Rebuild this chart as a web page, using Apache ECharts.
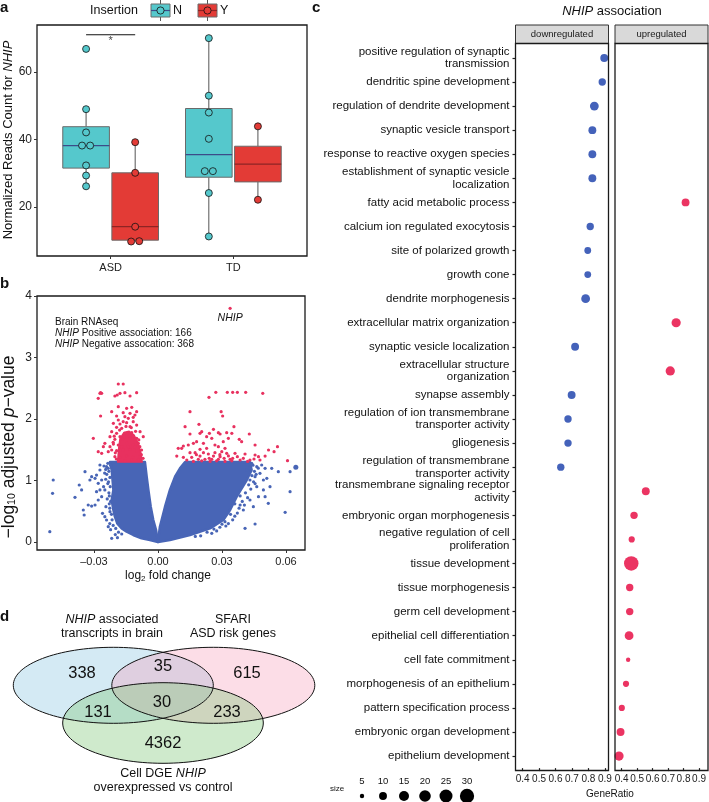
<!DOCTYPE html>
<html><head><meta charset="utf-8">
<script src="https://cdn.jsdelivr.net/npm/echarts@6/dist/echarts.min.js"></script>
<style>html,body{margin:0;padding:0;background:#fff}#c{width:709px;height:802px}</style>
</head><body><div id="c"></div><script>
// ---------------- Panel a data ----------------
const groupsA = ['ASD', 'TD'];
const insertionLevels = ['N', 'Y'];
const pointsN = [[66.9, 49.0, 42.1, 38.2, 38.2, 32.3, 29.3, 26.1], [70.1, 53.0, 48.0, 40.2, 30.6, 30.6, 24.1, 11.2]];
const pointsY = [[39.2, 30.1, 14.1, 9.7, 9.8], [43.9, 22.1]];
const boxN = [[26.1, 31.5, 38.2, 43.8, 49.0], [11.2, 28.8, 35.5, 49.2, 70.1]];   // min, Q1, median, Q3, max
const boxY = [[9.7, 10.1, 14.1, 30.1, 39.2], [22.1, 27.4, 32.7, 38.0, 43.9]];
const yTicksA = [20, 40, 60];
const sigLevel = 71.1;
const sigLabel = '*';

// ---------------- Panel b data ----------------
const lfcTicks = [-0.03, 0, 0.03, 0.06];
const logpTicks = [0, 1, 2, 3, 4];
const positiveCount = 166;
const negativeCount = 368;
const cloudLeft = [[-0.0225,1.30],[-0.0217,1.171],[-0.0213,1.008],[-0.0209,0.846],[-0.0217,0.683],[-0.0209,0.520],[-0.0202,0.412],[-0.0191,0.304],[-0.0170,0.222],[-0.0147,0.168],[-0.0116,0.114],[-0.0077,0.060],[-0.0038,0.033],[0,0],[-0.0009,0.195],[-0.0022,0.358],[-0.0034,0.574],[-0.0045,0.846],[-0.0053,1.062],[-0.0061,1.30]];
const cloudRight = [[0,0],[0.0009,0.249],[0.0033,0.574],[0.0056,0.846],[0.0080,1.062],[0.0103,1.198],[0.0127,1.30],[0.0431,1.30],[0.0439,1.171],[0.0416,1.008],[0.0369,0.737],[0.0338,0.520],[0.0306,0.358],[0.0244,0.222],[0.0150,0.114],[0.0056,0.033]];
const coreNeg = [[-0.0189,1.30],[-0.0185,1.50],[-0.0178,1.68],[-0.0160,1.78],[-0.0135,1.80],[-0.0112,1.74],[-0.0092,1.60],[-0.0080,1.45],[-0.0074,1.30]];
const sparseBlue = [[-0.0491,1.008],[-0.0494,0.791],[-0.0507,0.168],[-0.0389,0.726],[-0.0369,0.927],[-0.0358,0.846],[-0.0342,1.144],[-0.0350,0.520],[-0.0346,0.439],[-0.0327,0.602],[-0.0311,0.585],[-0.0295,0.602],[-0.0319,1.008],[-0.0311,1.062],[-0.0295,1.035],[-0.0288,1.089],[-0.0280,0.954],[-0.0272,1.171],[-0.0264,1.008],[-0.0272,0.846],[-0.0288,0.818],[-0.0264,0.737],[-0.0249,0.846],[-0.0272,1.252],[-0.0253,1.236],[-0.0241,1.225],[-0.0233,1.198],[-0.0260,0.466],[-0.0249,0.412],[-0.0241,0.358],[-0.0233,0.249],[-0.0217,0.060],[-0.0225,0.493],[-0.0244,0.574],[-0.0280,0.683],[-0.0240,1.10],[-0.0235,0.95],[-0.0230,0.80],[-0.0238,0.70],[-0.0228,0.62],[-0.0245,1.02],[-0.0255,0.90],[-0.0226,0.30],[-0.0222,0.20],[-0.0200,0.12],[-0.0190,0.07],
[-0.0222,1.25],[-0.0230,1.15],[-0.0225,1.05],[-0.0232,0.98],[-0.0224,0.90],[-0.0228,0.75],[-0.0222,0.66],[-0.0226,0.55],[-0.0218,0.45],[-0.0215,0.36],[-0.0210,0.27],[-0.0198,0.22],[-0.0185,0.16],[-0.0170,0.13],[-0.0235,1.28],[-0.0245,1.18],[-0.0250,1.12],
[0.0439,1.279],[0.0463,1.225],[0.0486,1.252],[0.0502,1.198],[0.0478,1.117],[0.0494,1.008],[0.0510,1.035],[0.0463,0.900],[0.0494,0.846],[0.0517,0.629],[0.0502,0.737],[0.0564,1.144],[0.0619,1.144],[0.0619,0.818],[0.0596,0.482],[0.0455,0.293],[0.0408,0.222],[0.0314,0.331],[0.0252,0.141],[0.0431,0.683],[0.0447,0.574],[0.0400,0.520],[0.0385,0.602],[0.0471,0.737],[0.0525,0.900],[0.0431,1.008],[0.0533,1.198],[0.0416,1.171],[0.0455,1.062],
[0.0445,1.25],[0.0452,1.15],[0.0440,1.08],[0.0448,0.98],[0.0425,0.93],[0.0435,0.86],[0.0410,0.80],[0.0420,0.72],[0.0395,0.66],[0.0405,0.60],[0.0380,0.55],[0.0372,0.47],[0.0360,0.42],[0.0350,0.36],[0.0330,0.30],[0.0318,0.26],[0.0290,0.24],[0.0275,0.18],[0.0230,0.16],[0.0200,0.10],[0.0460,1.10],[0.0470,1.20],[0.0430,1.20],[0.0455,0.95],[0.0385,0.75],[0.0360,0.62],[0.0340,0.45],[0.0300,0.29],[0.0262,0.21],[0.0175,0.09]];
const bigBlue = [[0.0646,1.214]];
const sigNeg = [[-0.0186,2.569],[-0.0163,2.569],[-0.0269,2.428],[-0.0280,2.336],[-0.0264,2.417],[-0.0202,2.374],[-0.0191,2.390],[-0.0178,2.417],[-0.0155,2.428],[-0.0100,2.428],[-0.0131,2.374],[-0.0217,2.119],[-0.0269,2.049],[-0.0186,2.201],[-0.0147,2.173],[-0.0123,2.190],[-0.0100,2.119],[-0.0163,2.103],[-0.0131,2.092],[-0.0108,2.065],[-0.0194,2.049],[-0.0155,2.038],[-0.0116,2.027],[-0.0209,1.930],[-0.0178,1.919],[-0.0147,1.940],[-0.0131,1.875],[-0.0100,1.902],[-0.0170,1.848],[-0.0217,1.794],[-0.0194,1.767],[-0.0155,1.767],[-0.0123,1.778],[-0.0084,1.794],[-0.0225,1.713],[-0.0202,1.669],[-0.0163,1.669],[-0.0131,1.686],[-0.0100,1.686],[-0.0069,1.713],[-0.0303,1.686],[-0.0249,1.604],[-0.0209,1.593],[-0.0186,1.577],[-0.0147,1.604],[-0.0116,1.577],[-0.0092,1.604],[-0.0280,1.469],[-0.0264,1.442],[-0.0233,1.469],[-0.0217,1.496],[-0.0194,1.485],[-0.0163,1.496],[-0.0131,1.507],[-0.0100,1.485],[-0.0077,1.496],[-0.0202,1.388],[-0.0178,1.377],[-0.0147,1.398],[-0.0116,1.377],[-0.0084,1.388],[-0.0186,1.333],[-0.0155,1.322],[-0.0123,1.333],[-0.0092,1.333],[-0.0256,1.550],[-0.0225,1.550],[-0.0170,1.550],[-0.0139,1.550],[-0.0108,1.550],[-0.0178,1.713],[-0.0147,1.713],[-0.0116,1.724],[-0.0194,1.864],[-0.0163,1.957],[-0.0116,1.957],[-0.0186,1.984],[-0.0139,2.011],[-0.0272,2.418],[-0.0205,1.72],[-0.0210,1.62],[-0.0090,1.66],[-0.0085,1.55],[-0.0078,1.42],[-0.0070,1.36],[-0.0200,1.45],[-0.0195,1.35],[-0.0125,1.86],[-0.0150,1.88],[-0.0180,1.82],[-0.0105,1.80]];
const sigPos = [[0.0271,2.434],[0.0325,2.434],[0.0350,2.434],[0.0372,2.434],[0.0411,2.434],[0.0491,2.417],[0.0239,2.352],[0.0150,2.119],[0.0296,2.119],[0.0303,2.049],[0.0192,1.913],[0.0356,1.875],[0.0127,1.875],[0.0260,1.832],[0.0205,1.794],[0.0197,1.767],[0.0150,1.756],[0.0241,1.767],[0.0283,1.778],[0.0291,1.756],[0.0322,1.778],[0.0346,1.767],[0.0428,1.756],[0.0228,1.713],[0.0252,1.686],[0.0330,1.686],[0.0381,1.669],[0.0392,1.631],[0.0306,1.631],[0.0181,1.631],[0.0166,1.604],[0.0213,1.604],[0.0142,1.577],[0.0119,1.561],[0.0111,1.523],[0.0455,1.577],[0.0095,1.523],[0.0267,1.577],[0.0283,1.550],[0.0314,1.523],[0.0228,1.523],[0.0197,1.507],[0.0150,1.453],[0.0174,1.453],[0.0213,1.453],[0.0236,1.431],[0.0267,1.453],[0.0299,1.469],[0.0322,1.442],[0.0361,1.442],[0.0372,1.388],[0.0408,1.431],[0.0455,1.415],[0.0471,1.388],[0.0518,1.496],[0.0544,1.469],[0.0560,1.550],[0.0502,1.398],[0.0088,1.398],[0.0119,1.377],[0.0158,1.377],[0.0189,1.344],[0.0220,1.344],[0.0252,1.344],[0.0283,1.344],[0.0291,1.388],[0.0338,1.344],[0.0385,1.333],[0.0431,1.333],[0.0478,1.333],[0.0607,1.322],[0.0135,1.333],[0.0197,1.398],[0.0260,1.398],[0.0166,1.31],[0.0205,1.32],[0.0244,1.31],[0.0275,1.32],[0.0314,1.31],[0.0346,1.32],[0.0240,1.36],[0.0310,1.36],[0.0180,1.42],[0.0290,1.42],[0.0330,1.40],[0.0350,1.36],[0.0400,1.36],[0.0420,1.31],[0.0450,1.35]];
const nhipPoint = [0.0338, 3.80];

// ---------------- Panel c data ----------------
const termOrder = ['positive regulation of synaptic\ntransmission','dendritic spine development','regulation of dendrite development','synaptic vesicle transport','response to reactive oxygen species','establishment of synaptic vesicle\nlocalization','fatty acid metabolic process','calcium ion regulated exocytosis','site of polarized growth','growth cone','dendrite morphogenesis','extracellular matrix organization','synaptic vesicle localization','extracellular structure\norganization','synapse assembly','regulation of ion transmembrane\ntransporter activity','gliogenesis','regulation of transmembrane\ntransporter activity','transmembrane signaling receptor\nactivity','embryonic organ morphogenesis','negative regulation of cell\nproliferation','tissue development','tissue morphogenesis','germ cell development','epithelial cell differentiation','cell fate commitment','morphogenesis of an epithelium','pattern specification process','embryonic organ development','epithelium development'];
const downTerms = ['positive regulation of synaptic\ntransmission','dendritic spine development','regulation of dendrite development','synaptic vesicle transport','response to reactive oxygen species','establishment of synaptic vesicle\nlocalization','calcium ion regulated exocytosis','site of polarized growth','growth cone','dendrite morphogenesis','synaptic vesicle localization','synapse assembly','regulation of ion transmembrane\ntransporter activity','gliogenesis','regulation of transmembrane\ntransporter activity'];
const downRatio = [0.896, 0.884, 0.836, 0.824, 0.824, 0.824, 0.811, 0.796, 0.796, 0.783, 0.719, 0.698, 0.676, 0.676, 0.632];
const downSize = [10, 9, 12, 10, 10, 10, 9, 8, 8, 12, 10, 10, 9, 9, 9];
const upTerms = ['fatty acid metabolic process','extracellular matrix organization','extracellular structure\norganization','transmembrane signaling receptor\nactivity','embryonic organ morphogenesis','negative regulation of cell\nproliferation','tissue development','tissue morphogenesis','germ cell development','epithelial cell differentiation','cell fate commitment','morphogenesis of an epithelium','pattern specification process','embryonic organ development','epithelium development'];
const upRatio = [0.813, 0.752, 0.714, 0.556, 0.480, 0.465, 0.462, 0.452, 0.452, 0.448, 0.442, 0.428, 0.401, 0.393, 0.383];
const upSize = [10, 13, 13, 10, 9, 7, 31, 9, 9, 12, 5, 7, 7, 10, 13];
const facetNames = ['downregulated', 'upregulated'];
const ratioTicks = [0.4, 0.5, 0.6, 0.7, 0.8, 0.9];
const sizeBreaks = [5, 10, 15, 20, 25, 30];

// ---------------- Panel d data ----------------
const vennSetNames = ['{i|NHIP} associated\ntranscripts in brain', 'SFARI\nASD risk genes', 'Cell DGE {i|NHIP}\noverexpressed vs control'];
const vennCounts = [338, 35, 615, 131, 30, 233, 4362]; // A, A∩B, B, A∩C, A∩B∩C, B∩C, C

// ---------------- styling ----------------
const FONT = '"Liberation Sans", Arial, Helvetica, sans-serif';
const TEAL = '#55C8CC', RED = '#E33B36';
const MED = ['#3C4C88', '#8E2424'];
const BLUE = '#4865B6', PINK = '#E8315F';
const DOWNC = '#4462BA', UPC = '#EB3462';
const sizeToPx = v => 2 + 12.5 * Math.sqrt(Math.max(v - 4, 0) / 27);
const dodge = [-0.2, 0.2];
const BOX_W = 0.38;

const chart = echarts.init(document.getElementById('c'));

const boxData = [];
groupsA.forEach((g, i) => {
  boxData.push([i + 1 + dodge[0]].concat(boxN[i], [0]));
  boxData.push([i + 1 + dodge[1]].concat(boxY[i], [1]));
});
function swarm(vals, center) {
  return vals.map((v, j) => {
    const ties = vals.map((w, k) => [w, k]).filter(t => Math.abs(t[0] - v) < 1.0);
    let off = 0;
    if (ties.length > 1) {
      const idx = ties.findIndex(t => t[1] === j);
      off = (idx - (ties.length - 1) / 2) * 0.066;
    }
    return [center + off, v];
  });
}
const ptsNData = [], ptsYData = [];
groupsA.forEach((g, i) => {
  swarm(pointsN[i], i + 1 + dodge[0]).forEach(p => ptsNData.push(p));
  swarm(pointsY[i], i + 1 + dodge[1]).forEach(p => ptsYData.push(p));
});

const axisFont = {fontFamily: FONT, color: '#222'};
const gridBorder = {show: true, borderColor: '#1a1a1a', borderWidth: 1.3, backgroundColor: '#fff'};
const noLine = {show: false, onZero: false};
const ratioAxis = gi => ({gridIndex: gi, type: 'value', min: 0.357, max: 0.922, axisLine: noLine, splitLine: {show: false},
  axisTick: {show: true, customValues: ratioTicks, length: 3, lineStyle: {color: '#222', width: 1.2}},
  axisLabel: Object.assign({customValues: ratioTicks, formatter: v => v.toFixed(1), fontSize: 10, margin: 6,
    hideOverlap: false, showMinLabel: true, showMaxLabel: true}, axisFont)});

const option = {
  animation: false,
  textStyle: {fontFamily: FONT},
  grid: [
    Object.assign({left: 37, top: 25, width: 270, height: 231}, gridBorder),
    Object.assign({left: 37, top: 296, width: 268, height: 254}, gridBorder),
    {left: 515.5, top: 45.9, width: 93, height: 722.2, show: false},
    {left: 615, top: 45.9, width: 93, height: 722.2, show: false}
  ],
  xAxis: [
    {gridIndex: 0, type: 'value', min: 0.4, max: 2.6, axisLine: noLine, splitLine: {show: false},
      axisTick: {show: true, customValues: [1, 2], length: 3, lineStyle: {color: '#333'}},
      axisLabel: Object.assign({customValues: [1, 2], formatter: v => groupsA[Math.round(v) - 1], fontSize: 11, margin: 6}, axisFont)},
    {gridIndex: 1, type: 'value', min: -0.0567, max: 0.0689, axisLine: noLine, splitLine: {show: false},
      axisTick: {show: true, customValues: lfcTicks, length: 3, lineStyle: {color: '#333'}},
      axisLabel: Object.assign({customValues: lfcTicks, formatter: v => (v < 0 ? '\u2013' : '') + Math.abs(v).toFixed(2), fontSize: 11, margin: 6,
        showMinLabel: true, showMaxLabel: true}, axisFont)},
    ratioAxis(2),
    ratioAxis(3)
  ],
  yAxis: [
    {gridIndex: 0, type: 'value', min: 5.4, max: 74, axisLine: noLine, splitLine: {show: false},
      axisTick: {show: true, customValues: yTicksA, length: 3, lineStyle: {color: '#333'}},
      axisLabel: Object.assign({customValues: yTicksA, fontSize: 12, margin: 5}, axisFont)},
    {gridIndex: 1, type: 'value', min: -0.13, max: 4.0, axisLine: noLine, splitLine: {show: false},
      axisTick: {show: true, customValues: logpTicks, length: 3, lineStyle: {color: '#333'}},
      axisLabel: Object.assign({customValues: logpTicks, fontSize: 12, margin: 5, showMinLabel: true, showMaxLabel: true}, axisFont)},
    {gridIndex: 2, type: 'category', data: termOrder, inverse: true, boundaryGap: true, axisLine: noLine, splitLine: {show: false},
      axisTick: {show: true, alignWithLabel: true, length: 3, lineStyle: {color: '#222', width: 1.2}},
      axisLabel: Object.assign({interval: 0, fontSize: 11.5, lineHeight: 12.5, margin: 6}, axisFont, {color: '#111'})},
    {gridIndex: 3, type: 'category', data: termOrder, inverse: true, boundaryGap: true, axisLine: noLine, splitLine: {show: false},
      axisTick: {show: false}, axisLabel: {show: false}}
  ],
  series: [
    {type: 'custom', xAxisIndex: 0, yAxisIndex: 0, data: boxData, encode: {x: 0, y: [1, 2, 3, 4, 5]}, z: 2,
      renderItem: (params, api) => {
        const x = api.value(0), k = api.value(6);
        const pMin = api.coord([x, api.value(1)]), pQ1 = api.coord([x, api.value(2)]), pMd = api.coord([x, api.value(3)]),
              pQ3 = api.coord([x, api.value(4)]), pMx = api.coord([x, api.value(5)]);
        const w = api.size([BOX_W, 0])[0];
        return {type: 'group', children: [
          {type: 'line', shape: {x1: pMin[0], y1: pMin[1], x2: pQ1[0], y2: pQ1[1]}, style: {stroke: '#555', lineWidth: 1}},
          {type: 'line', shape: {x1: pQ3[0], y1: pQ3[1], x2: pMx[0], y2: pMx[1]}, style: {stroke: '#555', lineWidth: 1}},
          {type: 'rect', shape: {x: pQ3[0] - w / 2, y: pQ3[1], width: w, height: pQ1[1] - pQ3[1]}, style: {fill: k === 0 ? TEAL : RED, stroke: '#6a6a6a', lineWidth: 1}},
          {type: 'line', shape: {x1: pMd[0] - w / 2, y1: pMd[1], x2: pMd[0] + w / 2, y2: pMd[1]}, style: {stroke: MED[k], lineWidth: 1.3}}
        ]};
      }},
    {type: 'scatter', xAxisIndex: 0, yAxisIndex: 0, data: ptsNData, symbolSize: 7, z: 3,
      itemStyle: {color: TEAL, borderColor: '#111', borderWidth: 0.8, opacity: 1}},
    {type: 'scatter', xAxisIndex: 0, yAxisIndex: 0, data: ptsYData, symbolSize: 7, z: 3,
      itemStyle: {color: RED, borderColor: '#111', borderWidth: 0.8, opacity: 1}},
    {type: 'line', xAxisIndex: 0, yAxisIndex: 0, data: [[1 + dodge[0], sigLevel], [1 + dodge[1], sigLevel]], symbol: 'none',
      lineStyle: {color: '#111', width: 1.2}, z: 3},
    {type: 'scatter', xAxisIndex: 0, yAxisIndex: 0, data: [[1, sigLevel]], symbolSize: 0, z: 3,
      label: {show: true, formatter: sigLabel, position: 'bottom', distance: 1, fontSize: 11, color: '#111', fontFamily: FONT}},
    {type: 'custom', xAxisIndex: 1, yAxisIndex: 1, data: [[0, 0]], z: 2, silent: true,
      renderItem: (params, api) => ({type: 'group', children: [
        {type: 'polygon', shape: {points: cloudLeft.map(q => api.coord(q))}, style: {fill: BLUE, stroke: BLUE, lineWidth: 2.5, lineJoin: 'round'}},
        {type: 'polygon', shape: {points: cloudRight.map(q => api.coord(q))}, style: {fill: BLUE, stroke: BLUE, lineWidth: 2.5, lineJoin: 'round'}},
        {type: 'polygon', shape: {points: coreNeg.map(q => api.coord(q))}, style: {fill: PINK, stroke: PINK, lineWidth: 1.5, lineJoin: 'round'}}
      ]})},
    {type: 'scatter', xAxisIndex: 1, yAxisIndex: 1, data: sparseBlue, symbolSize: 3.2, z: 3, itemStyle: {color: BLUE, opacity: 1}},
    {type: 'scatter', xAxisIndex: 1, yAxisIndex: 1, data: bigBlue, symbolSize: 5, z: 3, itemStyle: {color: BLUE, opacity: 1}},
    {type: 'scatter', xAxisIndex: 1, yAxisIndex: 1, data: sigNeg.concat(sigPos), symbolSize: 3.2, z: 4, itemStyle: {color: PINK, opacity: 1}},
    {type: 'scatter', xAxisIndex: 1, yAxisIndex: 1, data: [nhipPoint], symbolSize: 3.2, z: 4, itemStyle: {color: PINK, opacity: 1},
      label: {show: true, formatter: 'NHIP', position: 'bottom', distance: 3, fontStyle: 'italic', fontSize: 10.5, color: '#111', fontFamily: FONT}},
    {type: 'scatter', xAxisIndex: 2, yAxisIndex: 2, z: 3,
      data: downTerms.map((t, i) => [downRatio[i], termOrder.indexOf(t), downSize[i]]),
      symbolSize: v => sizeToPx(v[2]), itemStyle: {color: DOWNC, opacity: 1}},
    {type: 'scatter', xAxisIndex: 3, yAxisIndex: 3, z: 3,
      data: upTerms.map((t, i) => [upRatio[i], termOrder.indexOf(t), upSize[i]]),
      symbolSize: v => sizeToPx(v[2]), itemStyle: {color: UPC, opacity: 1}}
  ],
  graphic: []
};

const G = option.graphic;
const txt = (x, y, text, o) => G.push(Object.assign({type: 'text', x: x, y: y, silent: true,
  style: Object.assign({text: text, fontFamily: FONT, fontSize: 12, fill: '#111', textAlign: 'left', textVerticalAlign: 'middle'}, o || {})}));

txt(0, 8, 'a', {fontWeight: 'bold', fontSize: 15});
txt(0, 284, 'b', {fontWeight: 'bold', fontSize: 15});
txt(312, 8, 'c', {fontWeight: 'bold', fontSize: 15});
txt(0, 617, 'd', {fontWeight: 'bold', fontSize: 15});

txt(90, 11, 'Insertion', {fontSize: 12.5});
[[151, TEAL, 0], [198, RED, 1]].forEach(([x0, col, k]) => {
  G.push({type: 'line', silent: true, shape: {x1: x0 + 9.5, y1: 0, x2: x0 + 9.5, y2: 21}, style: {stroke: '#555', lineWidth: 1}});
  G.push({type: 'rect', silent: true, shape: {x: x0, y: 4, width: 19, height: 13}, style: {fill: col, stroke: '#6a6a6a', lineWidth: 1}});
  G.push({type: 'line', silent: true, shape: {x1: x0, y1: 10.5, x2: x0 + 19, y2: 10.5}, style: {stroke: MED[k], lineWidth: 1.2}});
  G.push({type: 'circle', silent: true, shape: {cx: x0 + 9.5, cy: 10.5, r: 3.6}, style: {fill: col, stroke: '#111', lineWidth: 0.8}});
  txt(x0 + 22, 11, insertionLevels[k], {fontSize: 12.5});
});
txt(8, 140, 'Normalized Reads Count for {i|NHIP}', {fontSize: 13, textAlign: 'center',
  rich: {i: {fontStyle: 'italic', fontSize: 13, fontFamily: FONT}}});
G[G.length - 1].rotation = Math.PI / 2;

txt(55, 322, 'Brain RNAseq', {fontSize: 10});
txt(55, 333, '{i|NHIP} Positive association: ' + positiveCount, {fontSize: 10, rich: {i: {fontStyle: 'italic', fontSize: 10, fontFamily: FONT}}});
txt(55, 344, '{i|NHIP} Negative assocation: ' + negativeCount, {fontSize: 10, rich: {i: {fontStyle: 'italic', fontSize: 10, fontFamily: FONT}}});
txt(9, 447, '\u2212log{s|10} adjusted {i|p}\u2212value', {fontSize: 17.5, textAlign: 'center',
  rich: {s: {fontSize: 10.5, fontFamily: FONT, verticalAlign: 'bottom', padding: [7, 0, 0, 0]}, i: {fontStyle: 'italic', fontSize: 17.5, fontFamily: FONT}}});
G[G.length - 1].rotation = Math.PI / 2;
txt(168, 576, 'log{s|2} fold change', {fontSize: 12, textAlign: 'center',
  rich: {s: {fontSize: 8, fontFamily: FONT, verticalAlign: 'bottom', padding: [6, 0, 0, 0]}}});

txt(612, 11, '{i|NHIP} association', {fontSize: 13, textAlign: 'center', rich: {i: {fontStyle: 'italic', fontSize: 13, fontFamily: FONT}}});
[[515.5, 93, 0], [615, 93, 1]].forEach(([x0, w, k]) => {
  G.push({type: 'rect', silent: true, shape: {x: x0, y: 25, width: w, height: 18.5}, style: {fill: '#d9d9d9', stroke: '#333', lineWidth: 1}});
  G.push({type: 'rect', silent: true, z: 10, shape: {x: x0, y: 43.5, width: w, height: 727}, style: {fill: 'none', stroke: '#1a1a1a', lineWidth: 1.3}});
  txt(x0 + w / 2, 34.5, facetNames[k], {fontSize: 9.5, textAlign: 'center', fill: '#1a1a1a'});
});
txt(610, 794, 'GeneRatio', {fontSize: 10, textAlign: 'center'});
txt(330, 789, 'size', {fontSize: 8});
sizeBreaks.forEach((s, i) => {
  const cx = 362 + i * 21;
  txt(cx, 781, String(s), {fontSize: 9.5, textAlign: 'center'});
  G.push({type: 'circle', silent: true, shape: {cx: cx, cy: 796, r: sizeToPx(s) / 2}, style: {fill: '#000'}});
});

const ell = [[113.3, 685.3, 100, 38, 'rgba(120,190,220,0.32)'], [213.3, 685.3, 101.5, 38, 'rgba(245,150,180,0.32)'], [163, 723, 100.3, 40.3, 'rgba(130,200,120,0.38)']];
ell.forEach(e => G.push({type: 'ellipse', silent: true, shape: {cx: e[0], cy: e[1], rx: e[2], ry: e[3]}, style: {fill: e[4], stroke: 'none'}}));
ell.forEach(e => G.push({type: 'ellipse', silent: true, shape: {cx: e[0], cy: e[1], rx: e[2], ry: e[3]}, style: {fill: 'none', stroke: '#111', lineWidth: 1}}));
const vennRich = {i: {fontStyle: 'italic', fontSize: 12.5, fontFamily: FONT}};
txt(112, 627, vennSetNames[0], {fontSize: 12.5, textAlign: 'center', lineHeight: 14, rich: vennRich});
txt(233, 627, vennSetNames[1], {fontSize: 12.5, textAlign: 'center', lineHeight: 14, rich: vennRich});
txt(163, 781, vennSetNames[2], {fontSize: 12.5, textAlign: 'center', lineHeight: 14, rich: vennRich});
const countPos = [[82, 673], [163, 666], [247, 673], [98, 712], [162, 702], [227, 712], [163, 743]];
vennCounts.forEach((c, i) => txt(countPos[i][0], countPos[i][1], String(c), {fontSize: 16.5, textAlign: 'center'}));

chart.setOption(option);
</script></body></html>
